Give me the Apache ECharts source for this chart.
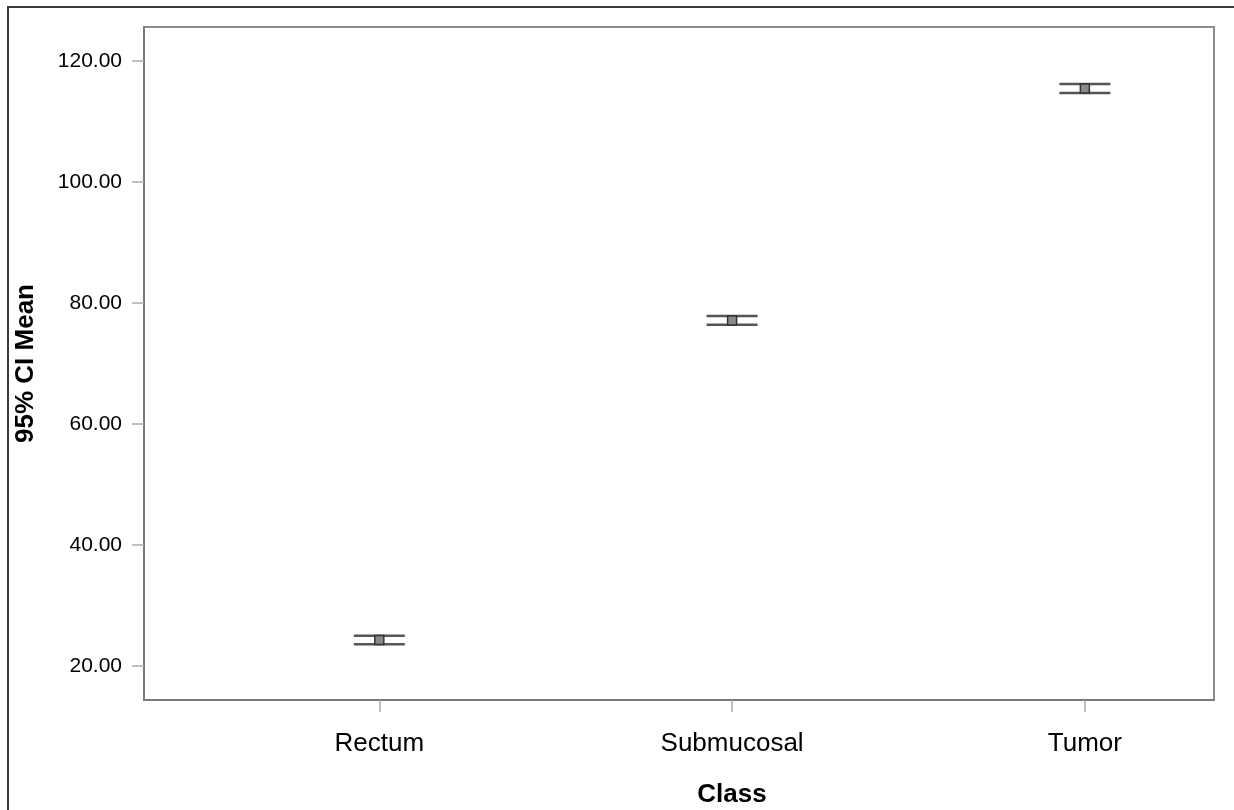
<!DOCTYPE html>
<html>
<head>
<meta charset="utf-8">
<script src="https://cdn.jsdelivr.net/npm/echarts@6/dist/echarts.min.js"></script>
<style>
  html, body { margin: 0; padding: 0; background: #fff; }
  #chart { width: 1234px; height: 810px; }
</style>
</head>
<body>
<div id="chart"></div>
<script>
// group names on the x axis
const categories = ['Rectum', 'Submucosal', 'Tumor'];
// 95% CI of the mean, per group
const meanValues = [24.3, 77.1, 115.45];
const upperValues = [25.0, 77.85, 116.2];
const lowerValues = [23.6, 76.4, 114.7];
// y tick labels
const yTicks = [20, 40, 60, 80, 100, 120];
const xTicks = categories.map((c, i) => i + 1);

const ciData = categories.map((c, i) => [i + 1, meanValues[i], lowerValues[i], upperValues[i]]);

const chart = echarts.init(document.getElementById('chart'));
const font = '"Liberation Sans", Arial, sans-serif';

const option = {
  animation: false,
  backgroundColor: '#fff',
  grid: {
    left: 144, top: 27, right: 20, bottom: 110,
    outerBoundsMode: 'none',
    containLabel: false,
    show: true, borderColor: '#8c8c8c', borderWidth: 2
  },
  graphic: [
    { type: 'line', shape: { x1: 8, y1: 6, x2: 8, y2: 810 }, style: { stroke: '#3a3a3a', lineWidth: 2 } },
    { type: 'line', shape: { x1: 7, y1: 7, x2: 1234, y2: 7 }, style: { stroke: '#3a3a3a', lineWidth: 2 } }
  ],
  xAxis: {
    type: 'value',
    min: 0.333,
    max: 3.366,
    name: 'Class',
    nameLocation: 'middle',
    nameGap: 82,
    nameTextStyle: { fontFamily: font, fontSize: 26, fontWeight: 'bold', color: '#000', padding: [0, 0, 0, 106] },
    axisLine: { show: true, lineStyle: { color: '#7a7a7a', width: 2 } },
    axisTick: { show: true, length: 12, customValues: xTicks, lineStyle: { color: '#aaa', width: 1.5 } },
    axisLabel: {
      customValues: xTicks,
      margin: 31,
      fontFamily: font, fontSize: 26, color: '#000',
      formatter: v => categories[Math.round(v) - 1] || ''
    },
    splitLine: { show: false }
  },
  yAxis: {
    type: 'value',
    min: 14.4,
    max: 125.6,
    name: '95% CI Mean',
    nameLocation: 'middle',
    nameGap: 105,
    nameTextStyle: { fontFamily: font, fontSize: 26, fontWeight: 'bold', color: '#000' },
    axisLine: { show: true, lineStyle: { color: '#7a7a7a', width: 2 } },
    axisTick: { show: true, length: 12, customValues: yTicks, lineStyle: { color: '#aaa', width: 1.5 } },
    axisLabel: {
      customValues: yTicks,
      margin: 22,
      fontFamily: font, fontSize: 21, color: '#000',
      formatter: v => v.toFixed(2)
    },
    splitLine: { show: false }
  },
  series: [{
    type: 'custom',
    data: ciData,
    encode: { x: 0, y: [1, 2, 3] },
    renderItem: function (params, api) {
      const x = api.value(0);
      const mean = api.coord([x, api.value(1)]);
      const lo = api.coord([x, api.value(2)]);
      const hi = api.coord([x, api.value(3)]);
      const hw = 25.5;
      const line = { stroke: '#555', lineWidth: 2.5 };
      return {
        type: 'group',
        children: [
          { type: 'line', shape: { x1: lo[0], y1: lo[1], x2: hi[0], y2: hi[1] }, style: { stroke: '#777', lineWidth: 1 } },
          { type: 'line', shape: { x1: hi[0] - hw, y1: hi[1], x2: hi[0] + hw, y2: hi[1] }, style: line },
          { type: 'line', shape: { x1: lo[0] - hw, y1: lo[1], x2: lo[0] + hw, y2: lo[1] }, style: line },
          { type: 'rect', shape: { x: mean[0] - 4.5, y: mean[1] - 4.5, width: 9, height: 9 }, style: { fill: '#8a8a8a', stroke: '#333', lineWidth: 1.5 } }
        ]
      };
    }
  }]
};

chart.setOption(option);
</script>
</body>
</html>
